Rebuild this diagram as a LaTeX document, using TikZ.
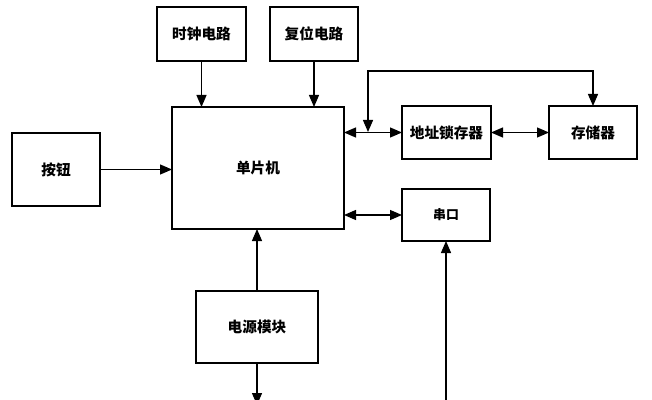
\documentclass[tikz,border=0pt]{standalone}
\usepackage{fontspec}
\newfontfamily\cjk{Noto Sans CJK SC}
\usetikzlibrary{arrows.meta,positioning,calc}

\begin{document}
\begin{tikzpicture}[x=0.03cm,y=-0.03cm,>={Triangle[length=3.6mm,width=3mm]},
    blk/.style={draw,line width=1.1pt,inner sep=0pt,outer sep=0pt,
      font=\cjk\bfseries\fontsize{12.5}{14}\selectfont},
    link/.style={line width=1.1pt}]
    \useasboundingbox (0,0) rectangle (652,400);
    % blocks
    \node[blk,minimum width=89*0.03cm,minimum height=54*0.03cm] (clock) at (201.5,34) {时钟电路};
    \node[blk,minimum width=88*0.03cm,minimum height=54*0.03cm] (reset) at (314,34) {复位电路};
    \node[blk,minimum width=172*0.03cm,minimum height=122*0.03cm] (mcu) at (258,168) {单片机};
    \node[blk,minimum width=89*0.03cm,minimum height=53*0.03cm] (latch) at (446.5,132.5) {地址锁存器};
    \node[blk,minimum width=88*0.03cm,minimum height=53*0.03cm] (mem) at (593,132.5) {存储器};
    \node[blk,minimum width=88*0.03cm,minimum height=52*0.03cm,font=\cjk\bfseries\fontsize{11}{13}\selectfont] (uart) at (446,215) {串口};
    \node[blk,minimum width=88*0.03cm,minimum height=73*0.03cm] (button) at (56,169.5) {按钮};
    \node[blk,minimum width=122*0.03cm,minimum height=72*0.03cm] (power) at (257,327) {电源模块};
    % free ends
    \coordinate (tap) at (368,132);
    \coordinate (loop) at (368,71);
    \coordinate (pwrend) at (257,405);
    \coordinate (uartin) at (446,400);
    % connectors
    \draw[link,->] (clock.south) -- (clock.south |- mcu.north);
    \draw[link,->] (reset.south) -- (reset.south |- mcu.north);
    \draw[link,->] (button.east) -- (button.east -| mcu.west);
    \draw[link,<->] (mcu.east |- latch.west) -- (latch.west);
    \draw[link,<->] (latch.east) -- (mem.west);
    \draw[link,<->] (mcu.east |- uart.west) -- (uart.west);
    \draw[link,<->] (tap) -- (loop) -| (mem.north);
    \draw[link,->] (power.north) -- (power.north |- mcu.south);
    \draw[link,->] (power.south) -- (pwrend);
    \draw[link,->] (uartin) -- (uartin |- uart.south);
  \end{tikzpicture}
\end{document}
